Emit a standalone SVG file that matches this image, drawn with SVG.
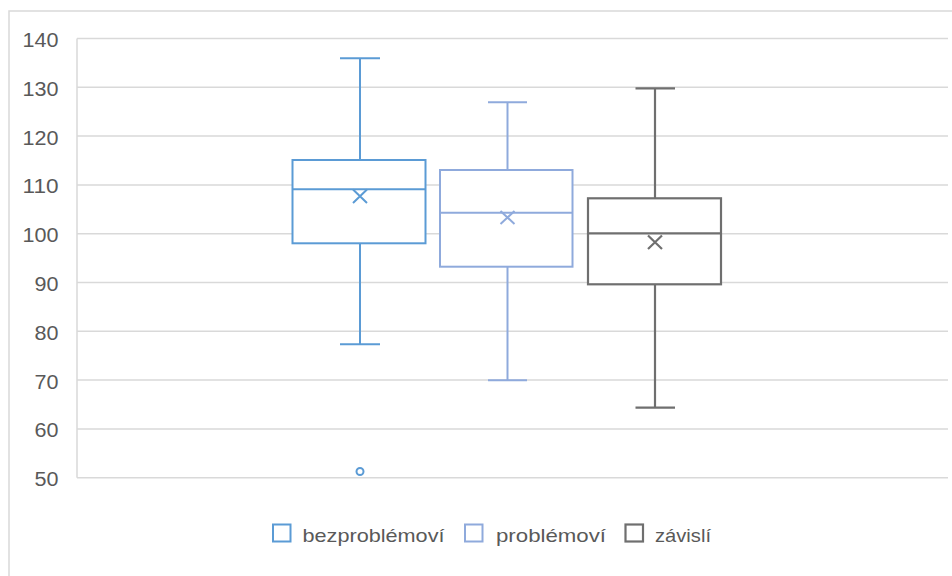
<svg xmlns="http://www.w3.org/2000/svg" width="952" height="576" viewBox="0 0 952 576">
<style>
.grid{stroke:#D9D9D9;stroke-width:1.5;fill:none}
.ylab{font-family:"Liberation Sans",Arial,sans-serif;font-size:19.5px;fill:#595959;text-anchor:end}
.leg{font-family:"Liberation Sans",Arial,sans-serif;font-size:19px;fill:#595959}
.s1{stroke:#5B9BD5;stroke-width:2;fill:none}
.s2{stroke:#8FAADC;stroke-width:2;fill:none}
.s3{stroke:#6F6F6F;stroke-width:2.2;fill:none}
.box{fill:#FFFFFF}
</style>
<rect x="0" y="0" width="952" height="576" fill="#FFFFFF"/>
<rect x="9" y="11" width="960" height="600" fill="#FFFFFF" stroke="#D9D9D9" stroke-width="1.5"/>
<g id="gridlines">
<line class="grid" x1="77" y1="38.5" x2="948" y2="38.5"/>
<line class="grid" x1="77" y1="87.3" x2="948" y2="87.3"/>
<line class="grid" x1="77" y1="136.1" x2="948" y2="136.1"/>
<line class="grid" x1="77" y1="184.9" x2="948" y2="184.9"/>
<line class="grid" x1="77" y1="233.7" x2="948" y2="233.7"/>
<line class="grid" x1="77" y1="282.5" x2="948" y2="282.5"/>
<line class="grid" x1="77" y1="331.3" x2="948" y2="331.3"/>
<line class="grid" x1="77" y1="380.1" x2="948" y2="380.1"/>
<line class="grid" x1="77" y1="428.9" x2="948" y2="428.9"/>
<line class="grid" x1="77" y1="477.7" x2="948" y2="477.7"/>
<line class="grid" x1="77" y1="38.5" x2="77" y2="477.7"/>
</g>
<g id="y-axis">
<text class="ylab" x="58.5" y="47" textLength="36" lengthAdjust="spacingAndGlyphs">140</text>
<text class="ylab" x="58.5" y="95.8" textLength="36" lengthAdjust="spacingAndGlyphs">130</text>
<text class="ylab" x="58.5" y="144.6" textLength="36" lengthAdjust="spacingAndGlyphs">120</text>
<text class="ylab" x="58.5" y="193.4" textLength="36" lengthAdjust="spacingAndGlyphs">110</text>
<text class="ylab" x="58.5" y="242.2" textLength="36" lengthAdjust="spacingAndGlyphs">100</text>
<text class="ylab" x="58.5" y="291" textLength="24" lengthAdjust="spacingAndGlyphs">90</text>
<text class="ylab" x="58.5" y="339.8" textLength="24" lengthAdjust="spacingAndGlyphs">80</text>
<text class="ylab" x="58.5" y="388.6" textLength="24" lengthAdjust="spacingAndGlyphs">70</text>
<text class="ylab" x="58.5" y="437.4" textLength="24" lengthAdjust="spacingAndGlyphs">60</text>
<text class="ylab" x="58.5" y="486.2" textLength="24" lengthAdjust="spacingAndGlyphs">50</text>
</g>
<g id="bezproblemovi" class="s1">
<line x1="360" y1="58.3" x2="360" y2="160"/>
<line x1="340" y1="58.3" x2="380" y2="58.3"/>
<line x1="360" y1="243.3" x2="360" y2="344.3"/>
<line x1="340" y1="344.3" x2="380" y2="344.3"/>
<rect class="box" x="292.5" y="160" width="133" height="83.3"/>
<line x1="292.5" y1="189.3" x2="425.5" y2="189.3"/>
<path d="M353 189.5 L367 203 M367 189.5 L353 203"/>
<circle cx="360" cy="471.5" r="3.5" fill="#FFFFFF"/>
</g>
<g id="problemovi" class="s2">
<line x1="507.5" y1="102.3" x2="507.5" y2="170"/>
<line x1="488" y1="102.3" x2="527" y2="102.3"/>
<line x1="507.5" y1="266.7" x2="507.5" y2="380.3"/>
<line x1="488" y1="380.3" x2="527" y2="380.3"/>
<rect class="box" x="440" y="170" width="132.5" height="96.7"/>
<line x1="440" y1="212.7" x2="572.5" y2="212.7"/>
<path d="M500.5 211 L514.5 224 M514.5 211 L500.5 224"/>
</g>
<g id="zavisli" class="s3">
<line x1="655" y1="88.3" x2="655" y2="198.3"/>
<line x1="635.5" y1="88.3" x2="675" y2="88.3"/>
<line x1="655" y1="284.3" x2="655" y2="407.7"/>
<line x1="635.5" y1="407.7" x2="675" y2="407.7"/>
<rect class="box" x="588" y="198.3" width="133" height="86"/>
<line x1="588" y1="233.3" x2="721" y2="233.3"/>
<path d="M648 235.5 L662 249 M662 235.5 L648 249"/>
</g>
<g id="legend">
<g id="legend-bezproblemovi">
<rect class="s1" x="273" y="524.5" width="17.5" height="17" fill="#FFFFFF"/>
<text class="leg" x="302.5" y="541.5" textLength="142" lengthAdjust="spacingAndGlyphs">bezproblémoví</text>
</g>
<g id="legend-problemovi">
<rect class="s2" x="465" y="524.5" width="17.5" height="17" fill="#FFFFFF"/>
<text class="leg" x="496" y="541.5" textLength="110" lengthAdjust="spacingAndGlyphs">problémoví</text>
</g>
<g id="legend-zavisli">
<rect class="s3" x="625.5" y="524.5" width="17.5" height="17" fill="#FFFFFF"/>
<text class="leg" x="655" y="541.5" textLength="56" lengthAdjust="spacingAndGlyphs">závislí</text>
</g>
</g>
</svg>
